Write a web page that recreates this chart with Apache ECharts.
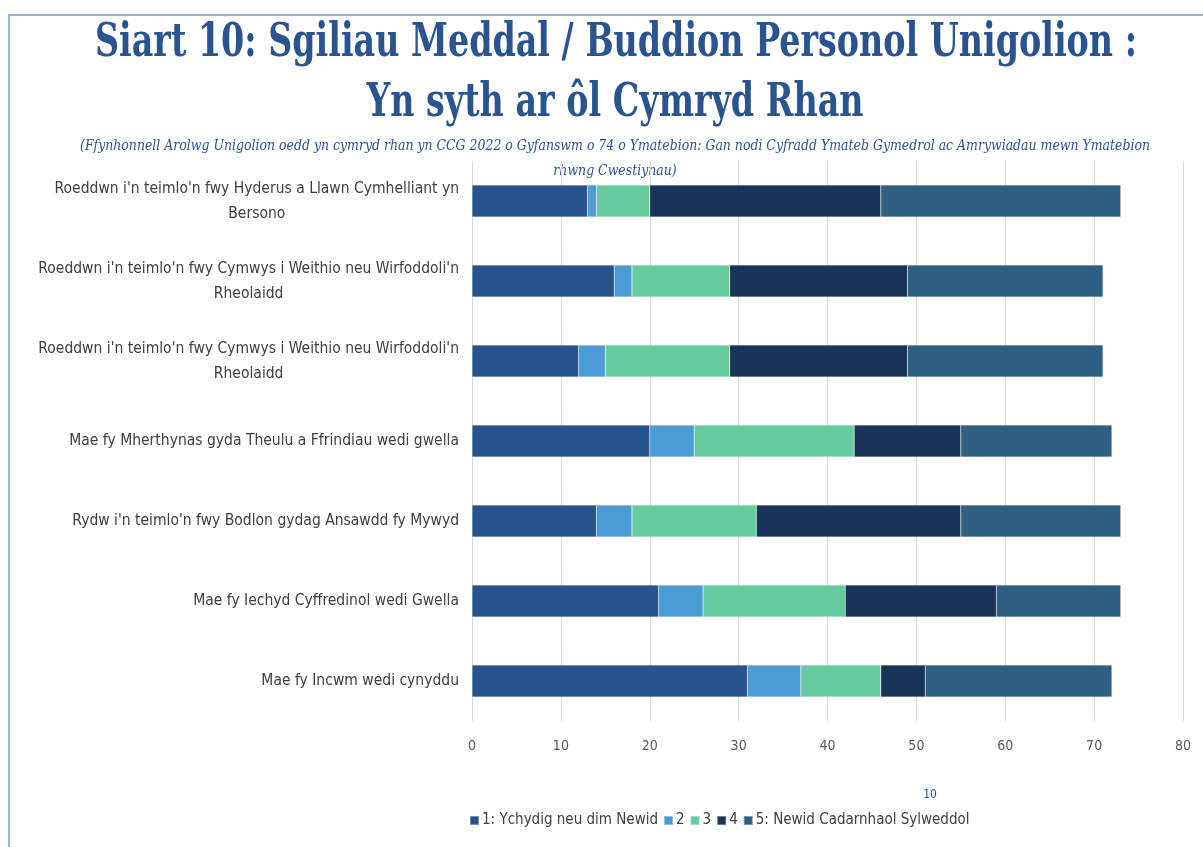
<!DOCTYPE html>
<html>
<head>
<meta charset="utf-8">
<script src="https://cdn.jsdelivr.net/npm/echarts@6/dist/echarts.min.js"></script>
<style>
  html, body { margin: 0; padding: 0; background: #fff; }
  #app { width: 1203px; height: 847px; }
</style>
</head>
<body>
<div id="app"></div>
<script>
// categories, top to bottom
const categories = [
  "Roeddwn i'n teimlo'n fwy Hyderus a Llawn Cymhelliant yn\nBersono",
  "Roeddwn i'n teimlo'n fwy Cymwys i Weithio neu Wirfoddoli'n\nRheolaidd",
  "Roeddwn i'n teimlo'n fwy Cymwys i Weithio neu Wirfoddoli'n\nRheolaidd",
  "Mae fy Mherthynas gyda Theulu a Ffrindiau wedi gwella",
  "Rydw i'n teimlo'n fwy Bodlon gydag Ansawdd fy Mywyd",
  "Mae fy Iechyd Cyffredinol wedi Gwella",
  "Mae fy Incwm wedi cynyddu"
];
const seriesNames = ['1: Ychydig neu dim Newid', '2', '3', '4', '5: Newid Cadarnhaol Sylweddol'];
const score1 = [13, 16, 12, 20, 14, 21, 31];
const score2 = [1, 2, 3, 5, 4, 5, 6];
const score3 = [6, 11, 14, 18, 14, 16, 9];
const score4 = [26, 20, 20, 12, 23, 17, 5];
const score5 = [27, 22, 22, 17, 18, 14, 21];
const xTicks = [0, 10, 20, 30, 40, 50, 60, 70, 80];
const colors = ['#28548e', '#4b9bd5', '#66cc9f', '#183459', '#2c5f81'];

const titleLines = ['Siart 10: Sgiliau Meddal / Buddion Personol Unigolion :', 'Yn syth ar ôl Cymryd Rhan'];
const subLines = [
  '(Ffynhonnell Arolwg Unigolion oedd yn cymryd rhan yn CCG 2022 o Gyfanswm o 74 o Ymatebion: Gan nodi Cyfradd Ymateb Gymedrol ac Amrywiadau mewn Ymatebion',
  'rhwng Cwestiynau)'
];

const font = "'Liberation Sans Narrow', 'DejaVu Sans Condensed', sans-serif";
const titleFont = "bold 47px 'DejaVu Serif Condensed', 'DejaVu Serif', serif";
const subFont = "italic 14px 'DejaVu Serif Condensed', 'DejaVu Serif', serif";
const allValues = [score1, score2, score3, score4, score5];

// measure text so the condensed title can be squeezed to the original width
const ctx = document.createElement('canvas').getContext('2d');
function textWidth(text, f) {
  ctx.font = f;
  return ctx.measureText(text).width;
}
const titleScale = 1042 / textWidth(titleLines[0], titleFont);
const subScale = 1070 / textWidth(subLines[0], subFont);

function textEl(text, f, x, y, sx, fill) {
  return {
    type: 'text',
    x: x,
    y: y,
    scaleX: sx,
    silent: true,
    style: { text: text, font: f, fill: fill, textAlign: 'center', textVerticalAlign: 'middle' }
  };
}

var myChart = echarts.init(document.getElementById('app'));

let option = {
  animation: false,
  color: colors,
  title: {
    text: '10',
    left: 925,
    top: 784,
    textAlign: 'center',
    textStyle: { fontFamily: font, fontSize: 12, fontWeight: 'normal', color: '#2a5490' }
  },
  graphic: [
    {
      type: 'rect',
      shape: { x: 9, y: 15, width: 1260, height: 900 },
      style: { fill: 'none', stroke: '#6f9bd3', lineWidth: 1.5 },
      silent: true
    },
    textEl(titleLines[0], titleFont, 616, 44, titleScale, '#2a5490'),
    textEl(titleLines[1], titleFont, 615, 104, titleScale, '#2a5490'),
    textEl(subLines[0], subFont, 615, 146, subScale, '#2a5490'),
    textEl(subLines[1], subFont, 615, 171, subScale, '#2a5490')
  ],
  legend: {
    data: seriesNames,
    left: 464,
    top: 808,
    itemWidth: 9,
    itemHeight: 9,
    itemGap: 5,
    icon: 'rect',
    textStyle: { fontFamily: font, fontSize: 15, color: '#404040', padding: [0, 0, 0, -2] }
  },
  grid: {
    left: 472,
    right: 20,
    top: 161,
    bottom: 126,
    containLabel: false
  },
  xAxis: {
    type: 'value',
    min: 0,
    max: 80,
    interval: 10,
    axisLine: { show: false },
    axisTick: { show: false },
    splitLine: { lineStyle: { color: '#d9d9d9' } },
    axisLabel: {
      fontFamily: font,
      fontSize: 14,
      color: '#595959',
      margin: 18,
      formatter: v => xTicks.includes(v) ? String(v) : ''
    }
  },
  yAxis: {
    type: 'category',
    inverse: true,
    data: categories,
    axisLine: { show: false },
    axisTick: { show: false },
    axisLabel: {
      margin: 13,
      formatter: v => v.split('\n').map(s => '{c|' + s + '}').join('\n'),
      rich: {
        c: {
          align: 'center',
          fontFamily: font,
          fontSize: 15.5,
          lineHeight: 25,
          color: '#404040'
        }
      }
    }
  },
  series: seriesNames.map((name, i) => ({
    name: name,
    type: 'bar',
    stack: 'total',
    barWidth: 32,
    data: allValues[i],
    itemStyle: { borderColor: 'rgba(255,255,255,0.35)', borderWidth: 0.5 }
  }))
};

myChart.setOption(option);
</script>
</body>
</html>
